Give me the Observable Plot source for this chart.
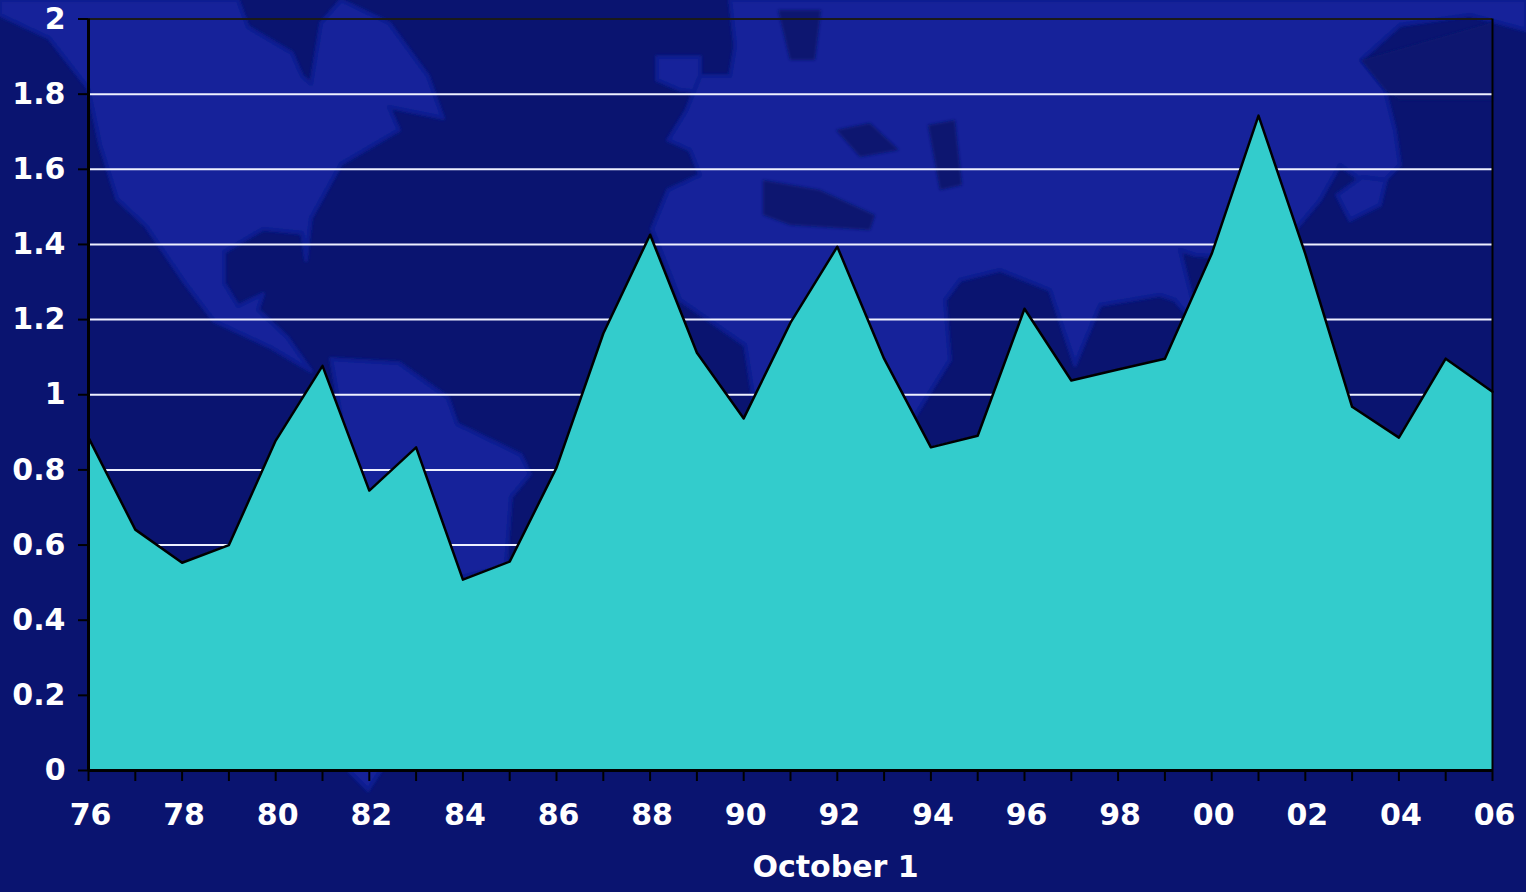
<!DOCTYPE html>
<html><head><meta charset="utf-8">
<script src="https://cdn.jsdelivr.net/npm/d3@7"></script>
<script src="https://cdn.jsdelivr.net/npm/@observablehq/plot@0.6"></script>
<style>
html,body{margin:0;padding:0;background:#0a1470;overflow:hidden}
#wrap{position:relative;width:1526px;height:892px}
#map{position:absolute;left:0;top:0}
#chart{position:absolute;left:0;top:0}
#chart svg{background:transparent;display:block}
#chart text{font-family:"DejaVu Sans",sans-serif;font-weight:700;fill:#fff}
</style></head><body>
<div id="wrap">
<svg id="map" width="1526" height="892">
<defs><filter id="soft"><feGaussianBlur stdDeviation="1.4"/></filter></defs>
<g filter="url(#soft)" fill="#12239a" stroke="#0b1c90" stroke-width="4" stroke-linejoin="round">
<path d="M0,15 49,38 88,88 100,145 117,199 146,226 185,283 214,321 272,348 297,363 311,371 287,337 258,310 263,294 238,306 224,283 224,252 263,229 302,233 306,260 311,218 341,164 399,130 389,107 443,118 428,76 389,23 341,0 321,23 311,84 302,76 292,53 248,27 238,0 0,0Z"/>
<path d="M331,359 399,363 448,398 457,424 521,455 530,474 511,497 506,566 462,577 440,680 368,790 350,772 350,560 345,440Z"/>
<path d="M657,57 700,57 700,92 680,90 657,80Z"/>
<path d="M730,0 735,46 730,76 700,76 686,111 668,140 690,150 700,175 668,190 652,229 680,300 745,345 760,440 780,600 870,600 900,440 950,360 945,300 960,280 1000,270 1050,290 1075,365 1100,305 1160,295 1175,300 1200,330 1180,250 1195,255 1270,260 1320,200 1340,165 1375,190 1400,165 1395,130 1385,90 1361,60 1400,25 1470,15 1526,30 1526,0Z"/>
<path d="M1337,195 1362,177 1386,180 1380,205 1350,220Z"/>
</g>
<g filter="url(#soft)" fill="#0a1470">
<path d="M778,10 821,10 815,60 790,60Z"/>
<path d="M836,130 870,123 899,150 860,157Z"/>
<path d="M763,180 820,190 875,215 870,230 790,225 763,215Z"/>
<path d="M928,125 955,120 962,185 940,190Z"/>
<path d="M1361,60 1493,22 1493,100 1400,100 1385,90Z"/>
</g>
</svg>
<div id="chart"></div>
</div>
<script>
const years = [1976,1977,1978,1979,1980,1981,1982,1983,1984,1985,1986,1987,1988,1989,1990,1991,1992,1993,1994,1995,1996,1997,1998,1999,2000,2001,2002,2003,2004,2005,2006];
const values = [0.886,0.641,0.553,0.600,0.878,1.077,0.745,0.860,0.508,0.556,0.806,1.163,1.426,1.112,0.937,1.192,1.394,1.096,0.860,0.891,1.229,1.038,1.067,1.096,1.375,1.743,1.375,0.968,0.886,1.096,1.008];
const gridValues = [0.2,0.4,0.6,0.8,1,1.2,1.4,1.6,1.8];
const yTicks = [0,0.2,0.4,0.6,0.8,1,1.2,1.4,1.6,1.8,2];
const xLabelYears = years.filter(y => y % 2 === 0);
const xTitle = "October 1";
const rows = years.map((year,i)=>({year,value:values[i]}));
const chart = Plot.plot({
  width:1526,height:892,
  marginLeft:88,marginRight:34,marginTop:18.5,marginBottom:122,
  style:{background:"transparent",overflow:"visible"},
  x:{domain:[1976,2006]},
  y:{domain:[0,2]},
  marks:[
    Plot.ruleY(gridValues,{stroke:"#eef0ff",strokeWidth:2}),
    Plot.areaY(rows,{x:"year",y:"value",fill:"#33cccc",fillOpacity:1}),
    Plot.lineY(rows,{x:"year",y:"value",stroke:"#000",strokeWidth:2.5}),
    Plot.ruleY([2],{stroke:"#1a1a1a",strokeWidth:2}),
    Plot.ruleX([2006],{stroke:"#000",strokeWidth:2}),
    Plot.ruleX([1976],{stroke:"#000",strokeWidth:3}),
    Plot.ruleY([0],{stroke:"#000",strokeWidth:3}),
    Plot.axisY({ticks:yTicks,tickSize:10,tickPadding:13,tickFormat:d=>String(d),stroke:"#000",strokeWidth:2,strokeOpacity:1,fontSize:30,label:null}),
    Plot.axisX({ticks:years,tickSize:11,text:null,stroke:"#000",strokeWidth:2,strokeOpacity:1,label:null}),
    Plot.axisX({ticks:xLabelYears,tickSize:0,tickPadding:33,dx:2,stroke:null,tickFormat:d=>String(d%100).padStart(2,"0"),fontSize:30,label:null}),
    Plot.text([xTitle],{frameAnchor:"bottom",dx:45,dy:106,fontSize:30,fill:"#fff"})
  ]
});
document.getElementById("chart").appendChild(chart);
</script>
</body></html>
